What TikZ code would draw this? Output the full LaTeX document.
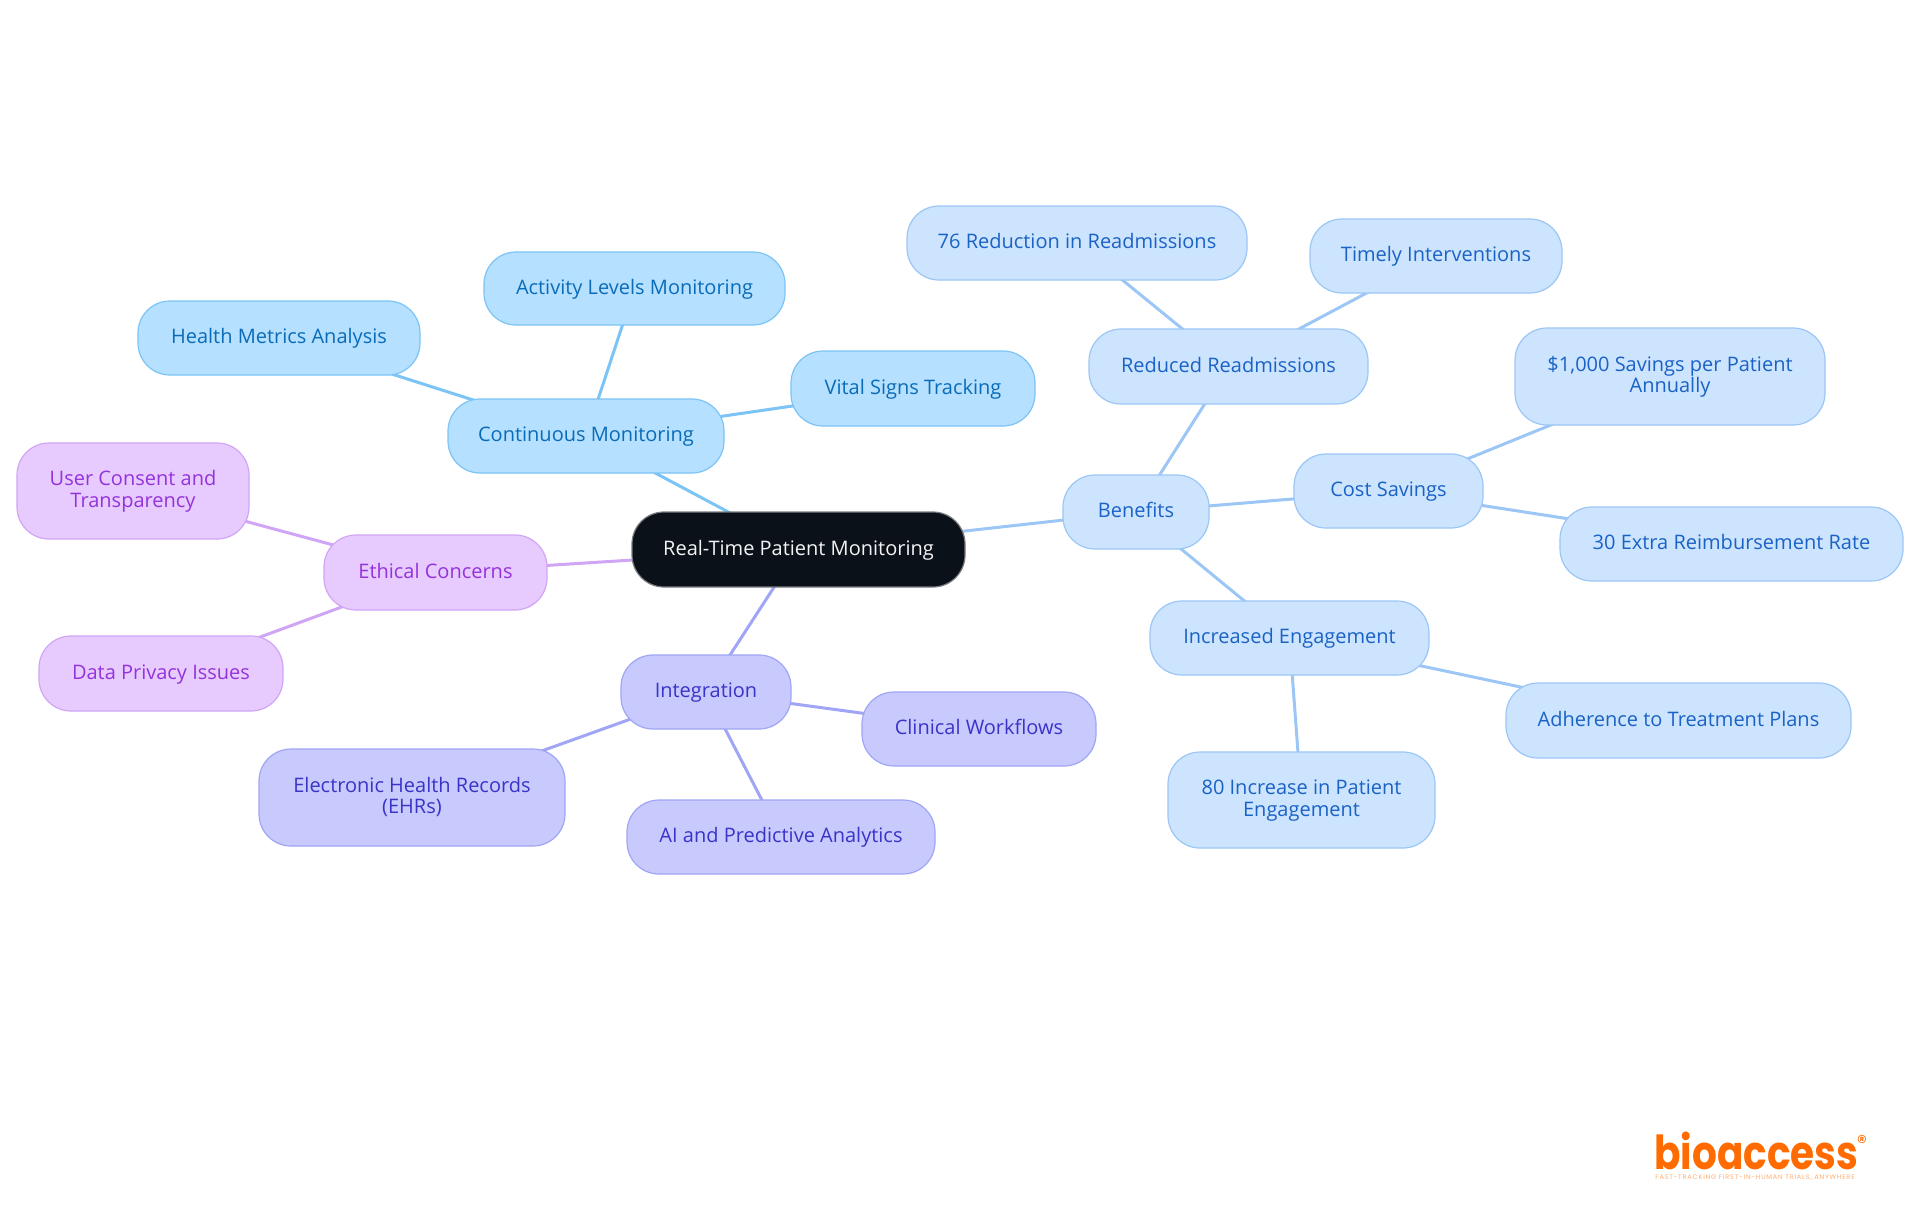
\documentclass[tikz,border=0pt]{standalone}
\usepackage{fontspec}
\setmainfont{Open Sans}
\newfontfamily\logofont{Poppins}
\newfontfamily\tagfont[LetterSpace=12]{Poppins}
\usetikzlibrary{backgrounds}
\definecolor{rootfill}{HTML}{0B1119}
\definecolor{rootline}{HTML}{7A7D82}
\definecolor{rootink}{HTML}{F2F3F4}
\definecolor{skyfill}{HTML}{B5E0FF}
\definecolor{skyline}{HTML}{7CC4F5}
\definecolor{skyink}{HTML}{0A6CB8}
\definecolor{bluefill}{HTML}{CCE4FD}
\definecolor{blueline}{HTML}{9CC6F5}
\definecolor{blueink}{HTML}{1B62C6}
\definecolor{indfill}{HTML}{C8CAFD}
\definecolor{indline}{HTML}{A0A5F5}
\definecolor{indink}{HTML}{3A33C8}
\definecolor{purfill}{HTML}{E8CBFE}
\definecolor{purline}{HTML}{D0A5F5}
\definecolor{purink}{HTML}{9333DB}
\definecolor{logoink}{HTML}{FF6B00}
\tikzset{
  mapnode/.style={rectangle,rounded corners=16pt,line width=.6pt,inner sep=0pt,align=center,
    text height=7.5pt,text depth=2pt,font=\fontsize{10}{10.8}\selectfont},
  wrapped/.style={text height=18.3pt},
  boxsize/.style 2 args={minimum width=#1*.5pt,minimum height=#2*.5pt},
  rootnode/.style={mapnode,fill=rootfill,draw=rootline,text=rootink},
  skynode/.style={mapnode,fill=skyfill,draw=skyline,text=skyink},
  bluenode/.style={mapnode,fill=bluefill,draw=blueline,text=blueink},
  indnode/.style={mapnode,fill=indfill,draw=indline,text=indink},
  purnode/.style={mapnode,fill=purfill,draw=purline,text=purink},
  skyedge/.style={skyline,line width=1.5pt},
  blueedge/.style={blueline,line width=1.5pt},
  indedge/.style={indline,line width=1.5pt},
  puredge/.style={purline,line width=1.5pt}
}
\begin{document}
\begin{tikzpicture}[x=.5pt,y=-.5pt]
\useasboundingbox (0,0) rectangle (1920,1215);
% centre
\node[rootnode,boxsize={333}{75}] (root) at (798.5,549.5) {Real-Time Patient Monitoring};
% continuous monitoring branch
\node[skynode,boxsize={276}{74}] (monitor) at (586,436) {Continuous Monitoring};
\node[skynode,boxsize={301}{73}] (activity) at (634.5,288.5) {Activity Levels Monitoring};
\node[skynode,boxsize={282}{74}] (metrics) at (279,338) {Health Metrics Analysis};
\node[skynode,boxsize={244}{75}] (vitals) at (913,388.5) {Vital Signs Tracking};
% ethical concerns branch
\node[purnode,boxsize={223}{75}] (ethics) at (435.5,572.5) {Ethical Concerns};
\node[purnode,wrapped,boxsize={232}{96}] (consent) at (133,491) {User Consent and\\Transparency};
\node[purnode,boxsize={244}{75}] (privacy) at (161,673.5) {Data Privacy Issues};
% integration branch
\node[indnode,boxsize={170}{74}] (integ) at (706,692) {Integration};
\node[indnode,wrapped,boxsize={306}{97}] (ehr) at (412,797.5) {Electronic Health Records\\(EHRs)};
\node[indnode,boxsize={308}{74}] (predict) at (781,837) {AI and Predictive Analytics};
\node[indnode,boxsize={234}{74}] (clinical) at (979,729) {Clinical Workflows};
% benefits branch
\node[bluenode,boxsize={146}{74}] (benefits) at (1136,512) {Benefits};
\node[bluenode,boxsize={279}{75}] (readm) at (1228.5,366.5) {Reduced Readmissions};
\node[bluenode,boxsize={340}{74}] (reduct) at (1077,243) {76 Reduction in Readmissions};
\node[bluenode,boxsize={252}{74}] (timely) at (1436,256) {Timely Interventions};
\node[bluenode,boxsize={189}{74}] (cost) at (1388.5,491) {Cost Savings};
\node[bluenode,wrapped,boxsize={310}{97}] (savings) at (1670,376.5) {\$1,000 Savings per Patient\\Annually};
\node[bluenode,boxsize={343}{74}] (reimb) at (1731.5,544) {30 Extra Reimbursement Rate};
\node[bluenode,boxsize={279}{74}] (engage) at (1289.5,638) {Increased Engagement};
\node[bluenode,boxsize={345}{75}] (adhere) at (1678.5,720.5) {Adherence to Treatment Plans};
\node[bluenode,wrapped,boxsize={267}{96}] (incr) at (1301.5,800) {80 Increase in Patient\\Engagement};
% connectors sit behind the boxes
\begin{pgfonlayer}{background}
\foreach \a/\b in {root/monitor,monitor/activity,monitor/metrics,monitor/vitals}{\draw[skyedge] (\a.center) -- (\b.center);}
\foreach \a/\b in {root/ethics,ethics/consent,ethics/privacy}{\draw[puredge] (\a.center) -- (\b.center);}
\foreach \a/\b in {root/integ,integ/ehr,integ/predict,integ/clinical}{\draw[indedge] (\a.center) -- (\b.center);}
\foreach \a/\b in {root/benefits,benefits/readm,readm/reduct,readm/timely,benefits/cost,cost/savings,cost/reimb,benefits/engage,engage/adhere,engage/incr}{\draw[blueedge] (\a.center) -- (\b.center);}
\end{pgfonlayer}
% logo
\node[logoink,inner sep=0pt,anchor=base west,transform shape,yscale=1.2,text depth=0pt,font=\logofont\bfseries\fontsize{19.5}{20}\selectfont] (logo) at (1654,1169) {bioaccess};
\node[logoink,inner sep=0pt,anchor=center,font=\logofont\fontsize{10}{10}\selectfont] (regmark) at (1862,1142) {®};
\node[logoink!55,inner sep=0pt,anchor=base west,font=\tagfont\fontsize{3.3}{3.5}\selectfont] (tagline) at (1655,1179) {FAST-TRACKING FIRST-IN-HUMAN TRIALS, ANYWHERE};
\end{tikzpicture}
\end{document}
